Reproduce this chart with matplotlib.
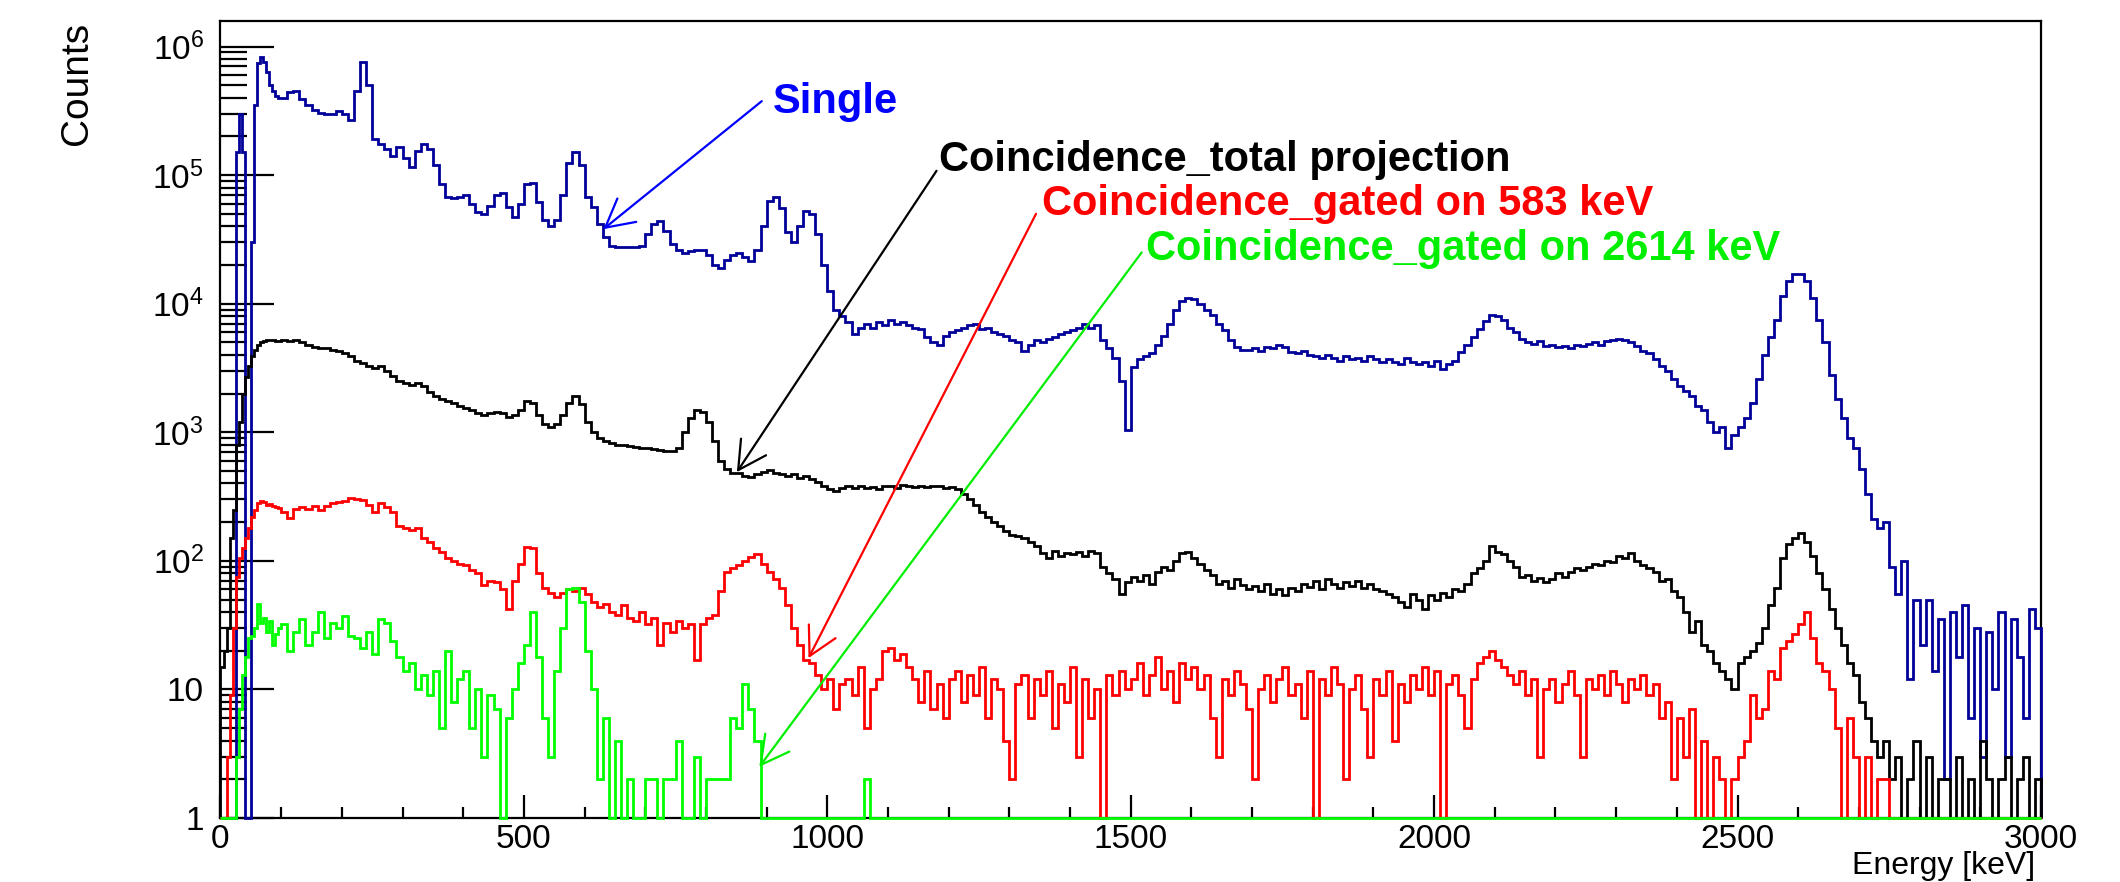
import numpy as np
import matplotlib
matplotlib.use("Agg")
import matplotlib.pyplot as plt
from matplotlib.ticker import MultipleLocator, FixedLocator, NullFormatter, FuncFormatter

plt.rcParams['font.family'] = ['Liberation Sans', 'DejaVu Sans']
plt.rcParams['mathtext.fontset'] = 'custom'
plt.rcParams['mathtext.rm'] = 'Liberation Sans'

# bin edges [keV]: 5 keV bins below 100 keV, 10 keV bins above
edges = np.concatenate([np.arange(0, 100, 5), np.arange(100, 3001, 10)])

# counts per bin (0 = empty bin)
single = [
    0, 0, 0, 0, 0, 1.5e5, 3.0e5, 1.5e5, 0, 0, 3e4, 3.5e5, 7.5e5, 8.3e5, 7.6e5, 6.3e5, 5.0e5, 4.5e5, 4.1e5, 4.0e5,
    4.0e5, 4.4e5, 4.5e5, 3.9e5, 3.5e5, 3.2e5, 3.05e5, 3.0e5, 3.0e5, 3.15e5,
    3.0e5, 2.7e5, 4.5e5, 7.6e5, 5.0e5, 1.9e5, 1.75e5, 1.6e5, 1.4e5, 1.65e5,
    1.35e5, 1.15e5, 1.55e5, 1.75e5, 1.6e5, 1.2e5, 8.5e4, 6.8e4, 6.6e4, 6.7e4,
    7.0e4, 6.0e4, 5.2e4, 5.0e4, 5.8e4, 7.0e4, 7.3e4, 5.6e4, 4.7e4, 6.0e4,
    8.5e4, 8.7e4, 6.2e4, 4.5e4, 4.0e4, 4.5e4, 7.0e4, 1.25e5, 1.5e5, 1.2e5,
    6.8e4, 5.6e4, 4.2e4, 3.3e4, 2.8e4, 2.75e4, 2.75e4, 2.75e4, 2.75e4, 2.8e4,
    3.5e4, 4.2e4, 4.4e4, 3.7e4, 2.9e4, 2.6e4, 2.5e4, 2.55e4, 2.6e4, 2.6e4,
    2.4e4, 2.0e4, 1.9e4, 2.2e4, 2.4e4, 2.5e4, 2.3e4, 2.15e4, 2.6e4, 4.0e4,
    6.3e4, 6.8e4, 5.5e4, 3.6e4, 3.0e4, 4.0e4, 5.3e4, 5.0e4, 3.5e4, 2.0e4,
    1.25e4, 9.0e3, 8.0e3, 7.2e3, 5.8e3, 6.5e3, 7.0e3, 6.5e3, 7.2e3, 6.8e3,
    7.5e3, 7.0e3, 7.2e3, 6.8e3, 6.5e3, 6.3e3, 5.5e3, 5.0e3, 4.8e3, 5.6e3,
    6.0e3, 6.2e3, 6.5e3, 6.8e3, 7.0e3, 6.4e3, 6.5e3, 6.0e3, 5.8e3, 5.6e3,
    5.2e3, 5.0e3, 4.3e3, 4.8e3, 5.2e3, 5.0e3, 5.3e3, 5.5e3, 5.8e3, 6.0e3,
    6.2e3, 6.5e3, 7.0e3, 6.5e3, 6.8e3, 5.2e3, 4.5e3, 3.8e3, 2.5e3, 1.05e3,
    3.2e3, 3.7e3, 3.9e3, 4.1e3, 4.8e3, 5.6e3, 7.0e3, 9.0e3, 1.05e4, 1.1e4,
    1.08e4, 1.0e4, 9.0e3, 8.2e3, 7.0e3, 6.2e3, 5.2e3, 4.6e3, 4.4e3, 4.4e3,
    4.5e3, 4.3e3, 4.6e3, 4.5e3, 4.8e3, 4.6e3, 4.2e3, 4.1e3, 4.3e3, 4.0e3,
    3.9e3, 3.8e3, 4.0e3, 3.8e3, 3.6e3, 3.9e3, 3.7e3, 3.8e3, 3.6e3, 3.9e3,
    3.7e3, 3.5e3, 3.7e3, 3.5e3, 3.4e3, 3.8e3, 3.5e3, 3.4e3, 3.5e3, 3.3e3,
    3.6e3, 3.1e3, 3.4e3, 3.6e3, 4.2e3, 4.8e3, 5.5e3, 6.3e3, 7.3e3, 8.2e3,
    8.0e3, 7.5e3, 6.5e3, 6.0e3, 5.3e3, 5.0e3, 4.9e3, 5.1e3, 4.7e3, 4.8e3,
    4.6e3, 4.7e3, 4.5e3, 4.8e3, 4.7e3, 4.9e3, 5.0e3, 4.8e3, 5.1e3, 5.2e3,
    5.3e3, 5.2e3, 5.0e3, 4.7e3, 4.3e3, 4.1e3, 3.7e3, 3.3e3, 3.0e3, 2.6e3,
    2.3e3, 2.1e3, 1.9e3, 1.6e3, 1.5e3, 1.2e3, 1.0e3, 1.1e3, 750, 950,
    1.1e3, 1.3e3, 1.7e3, 2.6e3, 4.0e3, 5.5e3, 7.5e3, 1.15e4, 1.5e4, 1.7e4,
    1.7e4, 1.5e4, 1.1e4, 7.5e3, 5.0e3, 2.8e3, 1.8e3, 1.3e3, 900, 750,
    520, 330, 210, 180, 200, 90, 55, 100, 12, 50,
    22, 50, 14, 35, 2, 40, 18, 45, 6, 30,
    3, 28, 10, 40, 3, 35, 18, 6, 42, 30,
]

total_proj = [
    15, 20, 30, 150, 250, 800, 1200, 2000, 2700, 3300, 3900, 4400, 4800, 5000, 5100, 5200, 5200, 5200, 5100, 5100,
    5200, 5100, 5200, 5000, 4800, 4600, 4500, 4500, 4400, 4300,
    4100, 3900, 3600, 3450, 3300, 3150, 3250, 3000, 2750, 2500,
    2400, 2350, 2400, 2300, 2050, 1900, 1800, 1750, 1700, 1600,
    1550, 1500, 1400, 1350, 1400, 1450, 1400, 1320, 1350, 1500,
    1750, 1700, 1350, 1150, 1100, 1150, 1350, 1700, 1900, 1650,
    1200, 1000, 900, 850, 820, 800, 790, 780, 770, 760,
    760, 740, 730, 710, 720, 750, 1000, 1300, 1500, 1450,
    1200, 850, 600, 520, 480, 480, 455, 450, 470, 490,
    510, 480, 470, 455, 470, 440, 460, 430, 410, 380,
    365, 350, 370, 380, 370, 385, 370, 375, 365, 380,
    385, 370, 390, 380, 375, 380, 375, 385, 380, 370,
    375, 360, 330, 300, 270, 240, 220, 200, 185, 170,
    160, 155, 150, 140, 130, 115, 105, 120, 110, 115,
    112, 118, 110, 120, 115, 90, 80, 72, 55, 68,
    75, 70, 78, 66, 82, 90, 85, 100, 115, 118,
    105, 95, 85, 78, 66, 70, 62, 72, 65, 60,
    64, 58, 66, 55, 60, 54, 62, 58, 66, 63,
    70, 60, 72, 66, 62, 68, 64, 70, 62, 66,
    60, 58, 55, 52, 48, 44, 55, 50, 42, 54,
    50, 56, 52, 60, 58, 66, 80, 88, 100, 130,
    118, 112, 100, 90, 75, 78, 70, 74, 68, 72,
    80, 75, 82, 88, 85, 90, 95, 92, 100, 98,
    110, 105, 115, 100, 92, 88, 82, 70, 72, 58,
    52, 40, 28, 34, 22, 20, 16, 14, 12, 10,
    16, 18, 20, 23, 30, 45, 62, 105, 135, 150,
    165, 140, 110, 80, 60, 42, 30, 22, 16, 13,
    8, 6, 4, 3, 4, 2, 3, 0, 2, 4,
    0, 3, 0, 2, 2, 0, 3, 0, 2, 0,
    4, 2, 0, 2, 3, 0, 2, 3, 0, 2,
]

gated_583 = [
    0, 0, 3, 9, 30, 75, 105, 125, 150, 180, 220, 250, 280, 290, 285, 270, 275, 265, 262, 258,
    240, 215, 255, 260, 255, 265, 250, 265, 280, 285,
    290, 310, 300, 295, 270, 240, 280, 260, 240, 185,
    180, 175, 180, 150, 140, 125, 118, 105, 100, 95,
    92, 85, 80, 65, 70, 68, 60, 42, 70, 95,
    128, 125, 80, 62, 56, 52, 56, 60, 58, 62,
    55, 48, 44, 46, 40, 38, 45, 36, 34, 40,
    32, 36, 22, 33, 28, 34, 30, 32, 17, 32,
    36, 38, 58, 82, 88, 92, 100, 108, 112, 95,
    82, 72, 62, 45, 30, 22, 17, 16, 13, 10,
    12, 7, 11, 12, 9, 15, 5, 10, 12, 20,
    21, 17, 19, 15, 12, 8, 14, 7, 11, 6,
    12, 14, 8, 13, 9, 15, 6, 12, 10, 4,
    2, 11, 13, 6, 12, 9, 14, 5, 11, 8,
    15, 3, 12, 6, 10, 0, 13, 9, 14, 10,
    12, 16, 9, 13, 18, 10, 14, 8, 16, 12,
    15, 10, 13, 6, 3, 12, 9, 14, 11, 7,
    2, 10, 13, 8, 12, 15, 9, 11, 6, 14,
    0, 12, 9, 15, 11, 2, 10, 13, 7, 3,
    12, 9, 14, 4, 11, 8, 13, 10, 15, 9,
    14, 0, 11, 13, 9, 5, 12, 16, 18, 20,
    17, 15, 13, 11, 14, 9, 12, 3, 10, 12,
    8, 11, 14, 9, 3, 12, 10, 13, 9, 14,
    11, 8, 12, 10, 13, 9, 11, 6, 8, 2,
    6, 3, 7, 0, 4, 0, 3, 2, 0, 2,
    3, 4, 9, 6, 7, 14, 12, 21, 24, 27,
    32, 40, 25, 16, 14, 10, 5, 0, 6, 3,
    0, 3, 0, 2, 2, 0, 0, 0, 0, 0,
    0, 0, 0, 0, 0, 0, 0, 0, 0, 0,
    0, 0, 0, 0, 0, 0, 0, 0, 0, 0,
]

gated_2614 = [
    0, 0, 0, 0, 0, 3, 7, 13, 18, 25, 26, 30, 46, 33, 36, 28, 34, 22, 27, 30,
    32, 20, 28, 35, 22, 28, 40, 25, 33, 30,
    37, 26, 25, 21, 28, 19, 35, 33, 24, 18,
    14, 16, 10, 13, 9, 14, 5, 20, 8, 12,
    14, 5, 10, 3, 9, 7, 0, 6, 10, 16,
    22, 40, 18, 6, 3, 14, 30, 60, 62, 48,
    20, 10, 2, 6, 0, 4, 0, 2, 0, 0,
    2, 2, 0, 2, 2, 4, 0, 0, 3, 0,
    2, 2, 2, 2, 6, 5, 11, 7, 4, 0,
    0, 0, 0, 0, 0, 0, 0, 0, 0, 0,
    0, 0, 0, 0, 0, 0, 2, 0, 0, 0,
    0, 0, 0, 0, 0, 0, 0, 0, 0, 0,
    0, 0, 0, 0, 0, 0, 0, 0, 0, 0,
    0, 0, 0, 0, 0, 0, 0, 0, 0, 0,
    0, 0, 0, 0, 0, 0, 0, 0, 0, 0,
    0, 0, 0, 0, 0, 0, 0, 0, 0, 0,
    0, 0, 0, 0, 0, 0, 0, 0, 0, 0,
    0, 0, 0, 0, 0, 0, 0, 0, 0, 0,
    0, 0, 0, 0, 0, 0, 0, 0, 0, 0,
    0, 0, 0, 0, 0, 0, 0, 0, 0, 0,
    0, 0, 0, 0, 0, 0, 0, 0, 0, 0,
    0, 0, 0, 0, 0, 0, 0, 0, 0, 0,
    0, 0, 0, 0, 0, 0, 0, 0, 0, 0,
    0, 0, 0, 0, 0, 0, 0, 0, 0, 0,
    0, 0, 0, 0, 0, 0, 0, 0, 0, 0,
    0, 0, 0, 0, 0, 0, 0, 0, 0, 0,
    0, 0, 0, 0, 0, 0, 0, 0, 0, 0,
    0, 0, 0, 0, 0, 0, 0, 0, 0, 0,
    0, 0, 0, 0, 0, 0, 0, 0, 0, 0,
    0, 0, 0, 0, 0, 0, 0, 0, 0, 0,
]

labels = ["Single", "Coincidence_total projection",
          "Coincidence_gated on 583 keV", "Coincidence_gated on 2614 keV"]
line_colors = ["#000099", "#000000", "#ff0000", "#00ff00"]
text_colors = ["#0000ff", "#000000", "#ff0000", "#00ee00"]

fig = plt.figure(figsize=(21.2, 8.82), dpi=100)
ax = fig.add_axes([0.104, 0.0726, 0.8587, 0.9036])

for vals, col in zip([single, total_proj, gated_583, gated_2614], line_colors):
    # empty bins sit on the floor of the log axis, as ROOT draws them
    y = np.clip(np.asarray(vals, dtype=float), 1, None)
    ax.stairs(y, edges, baseline=1, color=col, lw=2.0, zorder=3, clip_on=False)

ax.set_yscale("log")
ax.set_xlim(0, 3000)
ax.set_ylim(1, 1.58e6)

ax.xaxis.set_major_locator(MultipleLocator(500))
ax.xaxis.set_minor_locator(MultipleLocator(100))

decades = 10.0 ** np.arange(0, 7)
minor_y = [m * d for d in decades[:-1] for m in range(2, 10)]
ax.yaxis.set_major_locator(FixedLocator(decades))
ax.yaxis.set_minor_locator(FixedLocator(minor_y))
ax.yaxis.set_minor_formatter(NullFormatter())


def log_label(v, pos):
    p = int(round(np.log10(v)))
    if p == 0:
        return "1"
    if p == 1:
        return "10"
    return r"$\mathregular{10^{%d}}$" % p


ax.yaxis.set_major_formatter(FuncFormatter(log_label))

ax.tick_params(axis="both", which="both", direction="in", top=False, right=False, width=1.6)
ax.tick_params(axis="y", which="major", length=39, labelsize=24, pad=12)
ax.tick_params(axis="y", which="minor", length=19.5)
ax.tick_params(axis="x", which="major", length=16.5, labelsize=24, pad=4)
ax.tick_params(axis="x", which="minor", length=8)
for sp in ax.spines.values():
    sp.set_linewidth(1.6)

ax.text(-0.0786, 0.999, "Counts", transform=ax.transAxes, rotation=90,
        fontsize=28, ha="center", va="top")
ax.set_xlabel("Energy [keV]", fontsize=23, ha="right", va="baseline")
ax.xaxis.set_label_coords(0.997, -0.0705)

# annotation texts (left, baseline) and arrows (tail -> head), in data units
text_pos = [(910, 3.06e5), (1184, 1.07e5), (1353, 4.9e4), (1526, 2.19e4)]
arrow_tail = [(892, 3.76e5), (1180, 1.08e5), (1344, 5.0e4), (1518, 2.5e4)]
arrow_head = [(631, 3.8e4), (851, 490), (969, 17.5), (888, 2.5)]

for lab, col, tp, tail, head in zip(labels, text_colors, text_pos, arrow_tail, arrow_head):
    ax.text(tp[0], tp[1], lab, color=col, fontsize=30, fontweight="bold",
            ha="left", va="baseline", zorder=5)
    ax.annotate("", xy=head, xytext=tail,
                arrowprops=dict(arrowstyle="->,head_length=0.5,head_width=0.27",
                                mutation_scale=40, color=col, lw=1.6,
                                shrinkA=0, shrinkB=0),
                zorder=5)

fig.savefig("out.png", dpi=100)
